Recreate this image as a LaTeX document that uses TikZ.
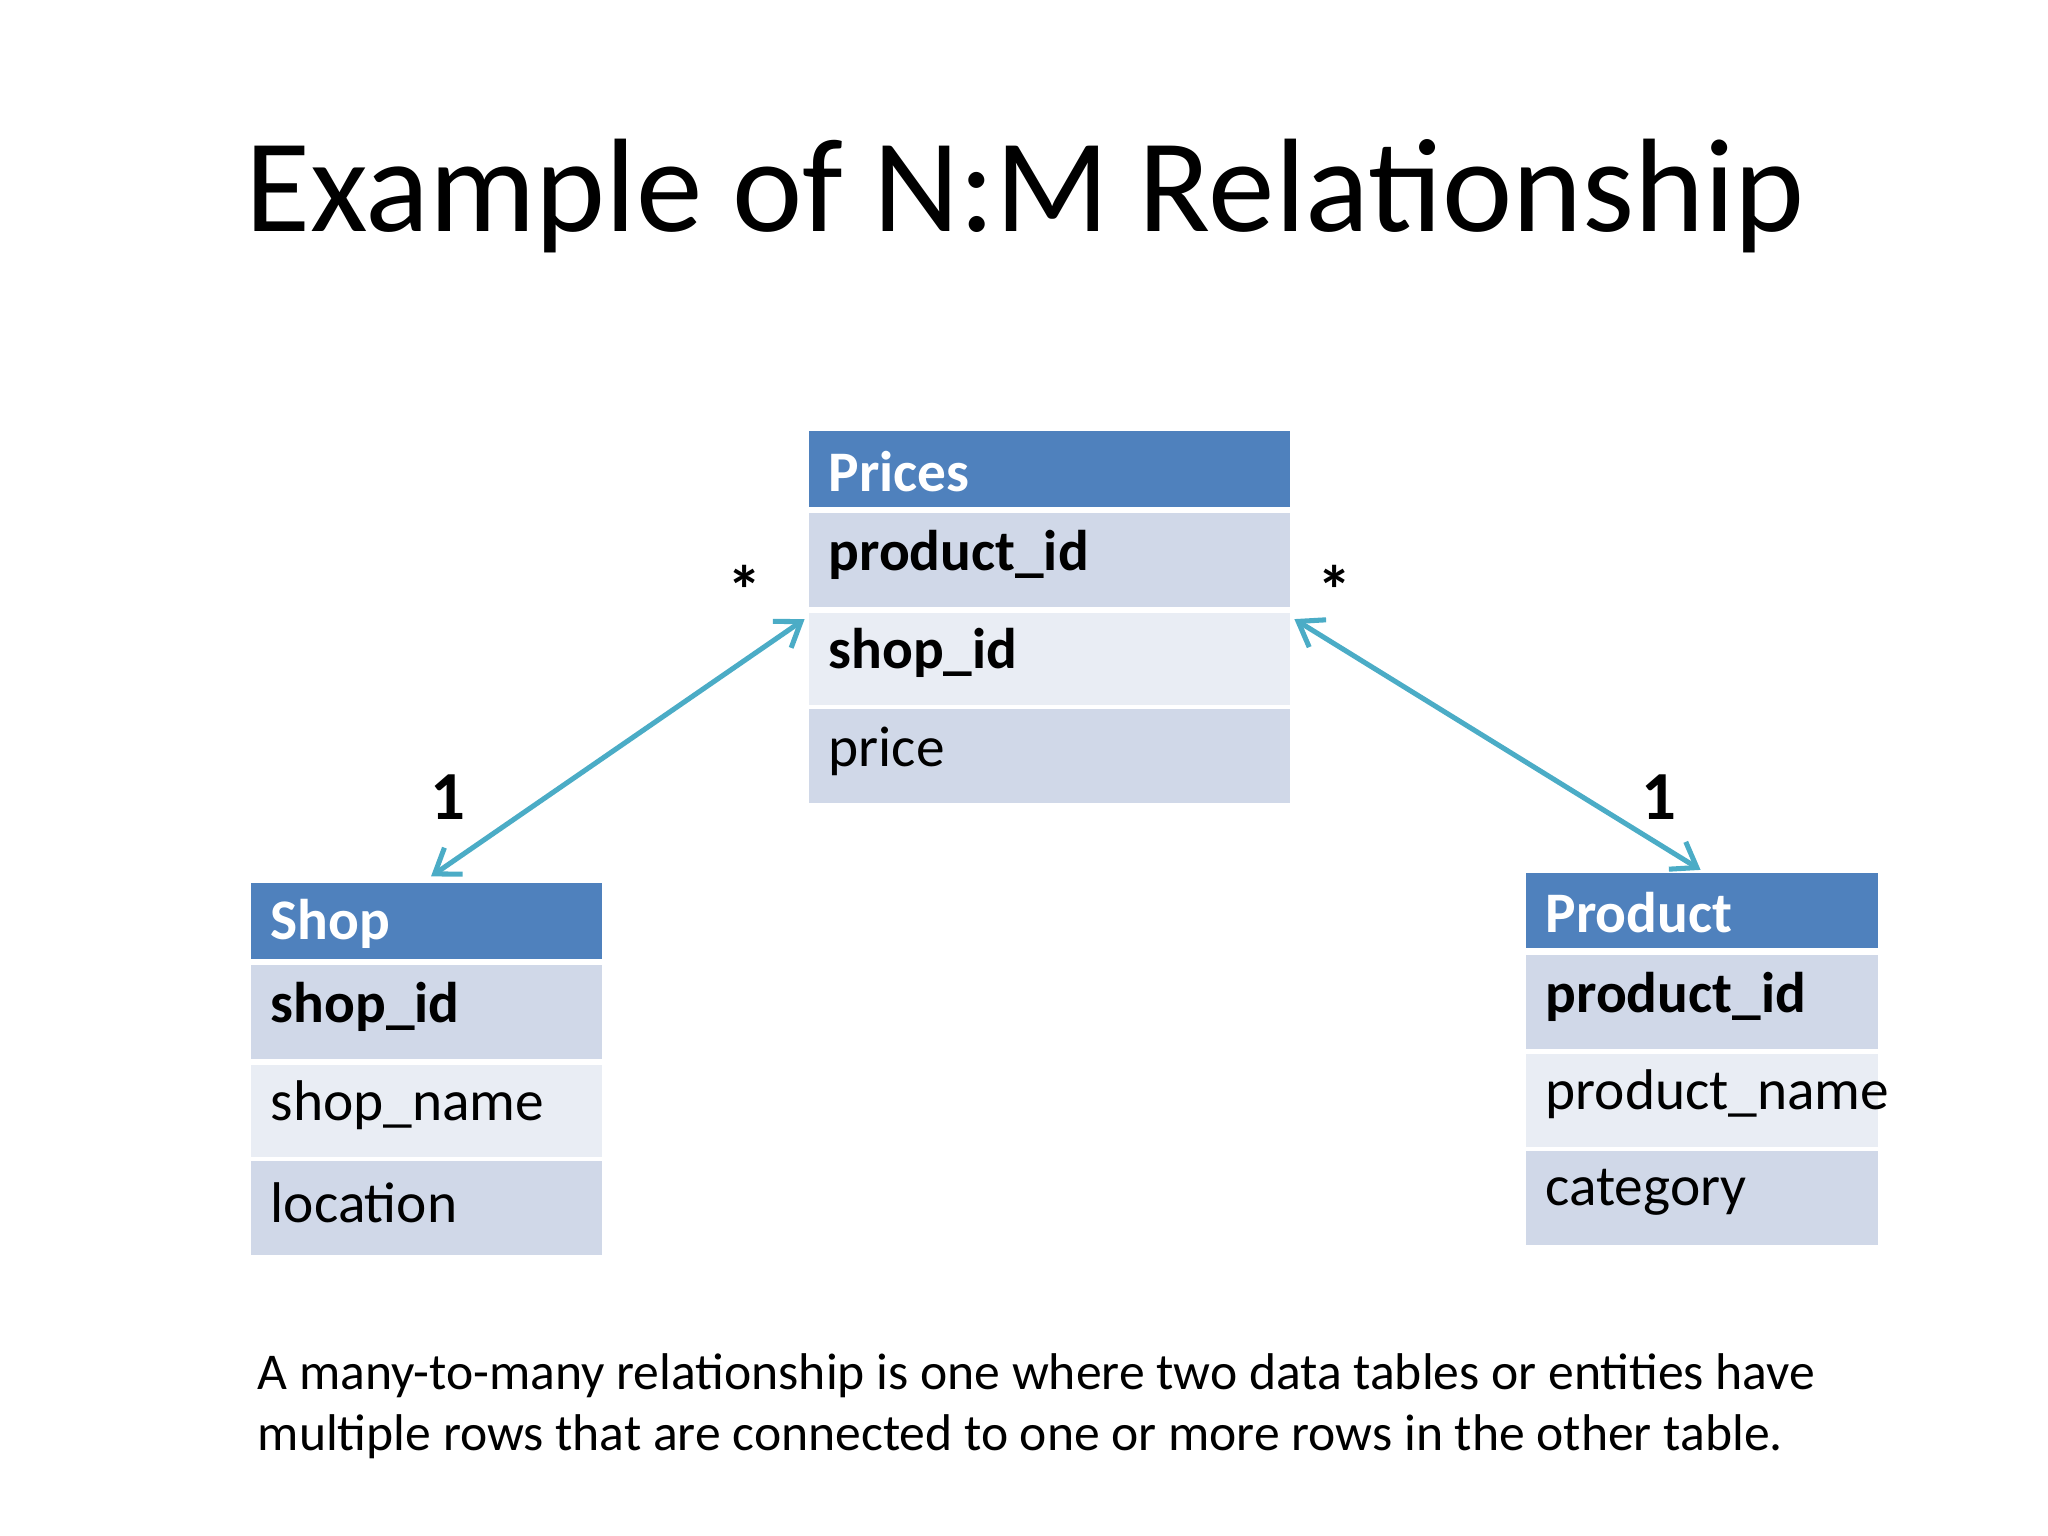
\documentclass[tikz,border=0pt]{standalone}
\usepackage{fontspec}
\setmainfont{Carlito}
\usetikzlibrary{arrows.meta}
\definecolor{hdr}{HTML}{4F81BD}
\definecolor{rowA}{HTML}{D0D8E8}
\definecolor{rowB}{HTML}{E9EDF4}
\definecolor{arr}{HTML}{4BACC6}
\begin{document}
\begin{tikzpicture}[x=0.02cm,y=-0.02cm,
  txt/.style={anchor=west,inner sep=0pt,font=\fontsize{25}{30}\selectfont},
  rel/.style={draw=arr,line width=2.2pt,{Straight Barb[length=10pt,width=14pt]}-{Straight Barb[length=10pt,width=14pt]}},
  lab/.style={font=\fontsize{30}{36}\selectfont\bfseries}]
\useasboundingbox (0,0) rectangle (1568,1176);
\node[font=\fontsize{58}{70}\selectfont] (title) at (785,150) {Example of N:M Relationship};
\newcommand{\mytable}[8]{%
  \fill[hdr] (#1,#3) rectangle (#2,#3+58);
  \node[txt,text=white,font=\fontsize{25}{30}\selectfont\bfseries] (#4h) at (#1+15,#3+31) {#5};
  \fill[rowA] (#1,#3+63) rectangle (#2,#3+135);
  \node[txt,font=\fontsize{25}{30}\selectfont\bfseries] (#4a) at (#1+15,#3+95) {#6};
  \fill[rowB] (#1,#3+139) rectangle (#2,#3+210);
  \node[txt] (#4b) at (#1+15,#3+170) {#7};
  \fill[rowA] (#1,#3+213) rectangle (#2,#3+285);
  \node[txt] (#4c) at (#1+15,#3+245) {#8};
}
\mytable{619}{988}{330}{pr}{Prices}{product\_id}{\textbf{shop\_id}}{price}
\mytable{192}{461}{676}{sh}{Shop}{shop\_id}{shop\_name}{location}
\mytable{1168}{1438}{668}{pd}{Product}{product\_id}{product\_name}{category}
\coordinate (s1) at (330,671);
\coordinate (p1) at (616,474);
\coordinate (p2) at (991,474);
\coordinate (d1) at (1302,666);
\draw[rel] (s1) -- (p1);
\draw[rel] (p2) -- (d1);
\node[lab] (st1) at (570,452) {*};
\node[lab] (st2) at (1022,452) {*};
\node[lab] (o1) at (343,610) {1};
\node[lab] (o2) at (1270,610) {1};
\node[anchor=west,inner sep=0pt,font=\fontsize{22.5}{27}\selectfont] (c1) at (197,1053) {A many-to-many relationship is one where two data tables or entities have};
\node[anchor=west,inner sep=0pt,font=\fontsize{22.5}{27}\selectfont] (c2) at (197,1100) {multiple rows that are connected to one or more rows in the other table.};
\end{tikzpicture}
\end{document}
